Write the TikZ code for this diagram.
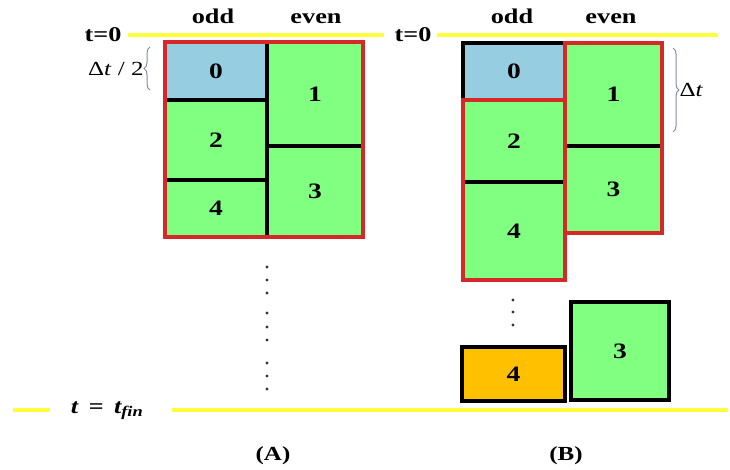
\documentclass[tikz,border=0pt]{standalone}
\usepackage{fontspec}
\setmainfont[FakeStretch=1.25]{Liberation Serif}
\usetikzlibrary{decorations.pathreplacing}
\definecolor{cgreen}{RGB}{128,255,128}
\definecolor{cblue}{RGB}{150,205,225}
\definecolor{corange}{RGB}{255,192,0}
\definecolor{cyellow}{RGB}{255,255,60}
\definecolor{cred}{RGB}{215,40,40}
\definecolor{cbrace}{RGB}{130,140,165}
\tikzset{
  x=1pt, y=-1pt,
  cell/.style={draw=black, line width=3.4pt, anchor=north west, inner sep=0pt, outer sep=0pt,
     font=\bfseries\fontsize{22}{22}\selectfont, fill=cgreen},
  frame/.style={draw=cred, line width=3.6pt},
  tline/.style={draw=cyellow, line width=4pt},
  lbl/.style={font=\bfseries\fontsize{21}{21}\selectfont, inner sep=0pt},
  head/.style={lbl, anchor=base},
  captext/.style={font=\bfseries\fontsize{20}{20}\selectfont, inner sep=0pt},
  dotmark/.style={circle, fill=black!80, inner sep=0pt, minimum size=3.2pt},
  bracestyle/.style={draw=cbrace, line width=1pt, decorate, decoration={brace, amplitude=6pt}}
}
\begin{document}
\begin{tikzpicture}
\useasboundingbox (0,0) rectangle (730,470);
% time lines
\node[head] (t0a) at (103,42) {t=0};
\node[head] (t0b) at (413,42) {t=0};
\coordinate (la1) at (128,35); \coordinate (la2) at (384,35);
\coordinate (lb1) at (437,35); \coordinate (lb2) at (718,35);
\draw[tline] (la1) -- (la2);
\draw[tline] (lb1) -- (lb2);
\node[inner sep=0pt, font=\bfseries\itshape\fontsize{21}{21}\selectfont] (tfin) at (107,411) {t\enspace=\enspace t\textsubscript{fin}};
\coordinate (f1) at (13,410); \coordinate (f2) at (50,410);
\coordinate (f3) at (172,410); \coordinate (f4) at (728,410);
\draw[tline] (f1) -- (f2);
\draw[tline] (f3) -- (f4);
% headers
\node[head] (oddA) at (213,24) {odd};
\node[head] (evenA) at (316,24) {even};
\node[head] (oddB) at (512,24) {odd};
\node[head] (evenB) at (611,24) {even};
% panel A
\node[cell, fill=cblue, minimum width=102pt, minimum height=58pt] (a0) at (165,42) {0};
\node[cell, minimum width=102pt, minimum height=80pt] (a2) at (165,100) {2};
\node[cell, minimum width=102pt, minimum height=57pt] (a4) at (165,180) {4};
\node[cell, minimum width=96pt, minimum height=104pt] (a1) at (267,42) {1};
\node[cell, minimum width=96pt, minimum height=91pt] (a3) at (267,146) {3};
\draw[frame] (a0.north west) rectangle (a3.south east);
\draw[bracestyle] (150,90) -- node[left=6pt, font=\fontsize{20}{20}\selectfont, inner sep=0pt] (dta) {Δ\textit{t} / 2} (150,47);
% dots A
\foreach \yy [count=\i] in {267,280,293,313,327,340,363,376,389}
  \node[dotmark] (da\i) at (267,\yy) {};
% panel B
\node[cell, fill=cblue, minimum width=102pt, minimum height=57pt] (b0) at (463,43) {0};
\node[cell, minimum width=102pt, minimum height=82pt] (b2) at (463,100) {2};
\node[cell, minimum width=102pt, minimum height=98pt] (b4) at (463,182) {4};
\node[cell, minimum width=97pt, minimum height=103pt] (b1) at (565,43) {1};
\node[cell, minimum width=97pt, minimum height=87pt] (b3) at (565,146) {3};
\draw[frame] (b2.north west) rectangle (b4.south east);
\draw[frame] (b1.north west) rectangle (b3.south east);
\draw[bracestyle] (673,48) -- node[right=6pt, font=\fontsize{20}{20}\selectfont, inner sep=0pt] (dtb) {Δ\textit{t}} (673,132);
\foreach \yy [count=\i] in {300,312,325}
  \node[dotmark] (db\i) at (513,\yy) {};
\node[cell, fill=corange, minimum width=103pt, minimum height=54pt] (c4) at (462,347) {4};
\node[cell, minimum width=98pt, minimum height=98pt] (c3) at (571,302) {3};
% captions
\node[captext] (capA) at (273,456) {(A)};
\node[captext] (capB) at (566,456) {(B)};
\end{tikzpicture}
\end{document}
